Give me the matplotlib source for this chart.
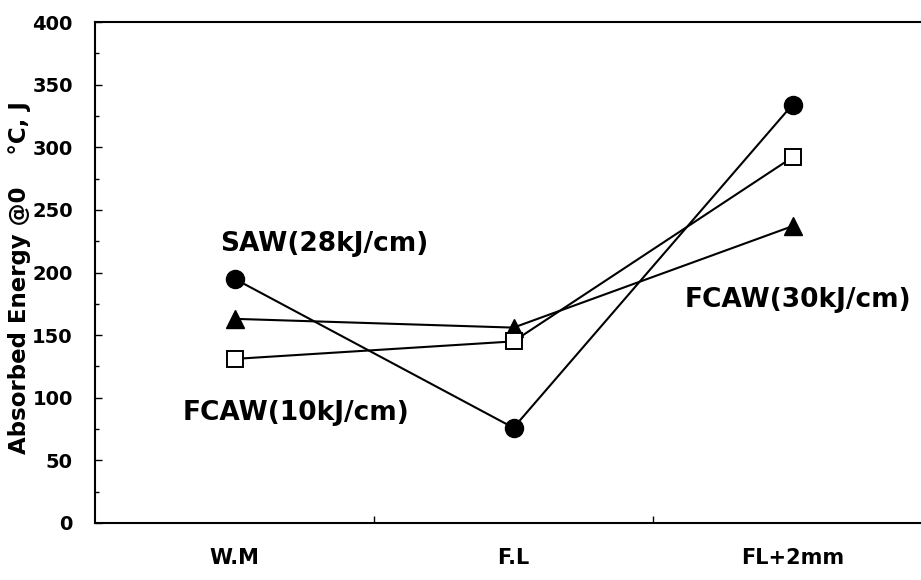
import numpy as np
import matplotlib.pyplot as plt
from matplotlib.ticker import MultipleLocator

plt.rcParams['font.family'] = ['DejaVu Sans']
plt.rcParams['font.weight'] = 'bold'

positions = ["W.M", "F.L", "FL+2mm"]
saw_28 = [195, 76, 334]
fcaw_30 = [163, 156, 237]
fcaw_10 = [131, 145, 292]

fig = plt.figure(figsize=(9.21, 5.80), dpi=100)
ax = fig.add_axes([95/921, 57/580, 837/921, 501/580])

x = np.arange(len(positions))
ax.plot(x, saw_28, color='black', lw=1.5, marker='o', ms=13, mfc='black', mec='black')
ax.plot(x, fcaw_30, color='black', lw=1.5, marker='^', ms=13, mfc='black', mec='black')
ax.plot(x, fcaw_10, color='black', lw=1.5, marker='s', ms=12, mfc='white', mec='black', mew=1.4)

ax.text(0.32, 223, "SAW(28kJ/cm)", ha='center', va='center', fontsize=19)
ax.text(0.22, 88, "FCAW(10kJ/cm)", ha='center', va='center', fontsize=19)
ax.text(2.02, 178, "FCAW(30kJ/cm)", ha='center', va='center', fontsize=19)

ax.set_xlim(-0.5, 2.5)
ax.set_ylim(0, 400)
ax.yaxis.set_major_locator(MultipleLocator(50))
ax.yaxis.set_minor_locator(MultipleLocator(25))
ax.set_xticks([0.5, 1.5])
ax.set_xticklabels([])
ax.tick_params(axis='both', which='both', direction='in', width=1)
ax.tick_params(axis='y', which='major', length=5, labelsize=14, pad=16)
ax.tick_params(axis='y', which='minor', length=3)
ax.tick_params(axis='x', length=5)
for lab in ax.get_yticklabels():
    lab.set_fontweight('bold')
for i, name in enumerate(positions):
    ax.text(i, -28, name, ha='center', va='center', fontsize=15)

for s in ax.spines.values():
    s.set_linewidth(1.5)
ax.spines['right'].set_visible(False)

fig.text(20/921, 1 - 278/580, "Absorbed Energy @0    \u00b0C, J", rotation=90,
         ha='center', va='center', fontsize=16.5)

fig.savefig("out.png", dpi=100)
